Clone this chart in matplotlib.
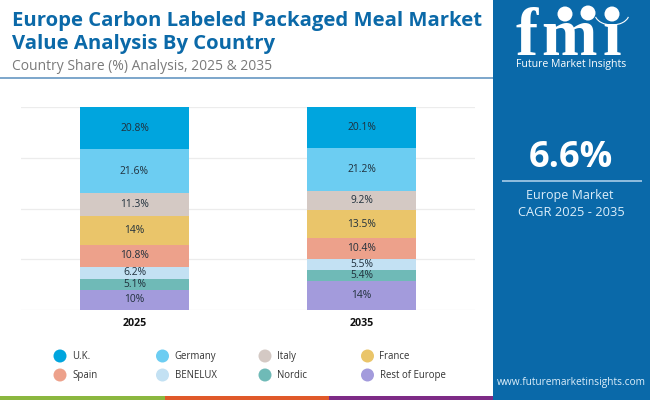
import numpy as np
import matplotlib
matplotlib.use("Agg")
import matplotlib.pyplot as plt
from matplotlib.patches import Rectangle, Circle, Arc

years = ["2025", "2035"]
countries = ["U.K.", "Germany", "Italy", "France", "Spain", "BENELUX", "Nordic", "Rest of Europe"]
uk = [20.8, 20.1]
germany = [21.6, 21.2]
italy = [11.3, 9.2]
france = [14, 13.5]
spain = [10.8, 10.4]
benelux = [6.2, 5.5]
nordic = [5.1, 5.4]
rest = [10, 14]
colors = ["#00A5DE", "#6CCDF2", "#D4C9C4", "#EAC56A", "#EDA18B", "#C3E1F3", "#6FBAB7", "#A39BDC"]
title_lines = ["Europe Carbon Labeled Packaged Meal Market", "Value Analysis By Country"]
subtitle = "Country Share (%) Analysis, 2025 & 2035"

W, H = 650, 400
fig = plt.figure(figsize=(6.5, 4), dpi=100, facecolor="white")
plt.rcParams["font.family"] = ["Open Sans", "DejaVu Sans"]

# chart axes
ax = fig.add_axes([21 / W, 1 - 310 / H, (475 - 21) / W, (310 - 107) / H])
series = [uk, germany, italy, france, spain, benelux, nordic, rest]
arr = np.array(series, dtype=float)
shares = arr / arr.sum(axis=0) * 100
x = np.arange(len(years))
top = np.full(len(years), 100.0)
for name, vals, sh, c in zip(countries, series, shares, colors):
    bottom = top - sh
    ax.bar(x, sh, 0.48, bottom=bottom, color=c, label=name, zorder=3)
    for xi, v, b, s in zip(x, vals, bottom, sh):
        ax.text(xi, b + s / 2, f"{v:g}%", ha="center", va="center",
                fontsize=7.4, color="#20303C", zorder=4)
    top = bottom
ax.set_xlim(-0.5, 1.5)
ax.set_ylim(0, 100)
ax.set_yticks([0, 25, 50, 75, 100])
ax.set_yticklabels([])
ax.set_xticks(x)
ax.set_xticklabels(years, fontsize=7.7, fontweight="bold", color="#111111")
ax.tick_params(length=0, pad=6)
ax.grid(axis="y", color="#ECECEC", lw=0.9, zorder=0)
ax.set_axisbelow(True)
for s in ax.spines.values():
    s.set_visible(False)

# overlay in pixel coordinates for page furniture
ov = fig.add_axes([0, 0, 1, 1], zorder=5)
ov.set_xlim(0, W)
ov.set_ylim(H, 0)
ov.axis("off")
ov.patch.set_alpha(0)
panel = "#0A69A9"
ov.add_patch(Rectangle((493, 0), 157, 400, color=panel, lw=0))
ov.add_patch(Rectangle((0, 77), 493, 1.6, color="#7FA8CC", lw=0))
for x0, x1, c in [(0, 165, "#8BB73F"), (165, 329, "#E0592A"), (329, 493, "#7E2B86")]:
    ov.add_patch(Rectangle((x0, 396), x1 - x0, 4, color=c, lw=0))

for y, line in zip([21, 44], title_lines):
    ov.text(12, y, line, fontsize=14.6, fontweight="bold", color="#0B69A8", ha="left", va="center")
ov.text(12, 67, subtitle, fontsize=10, color="#7A7A7A", ha="left", va="center")

# legend
lx = [60, 162.5, 265, 367.5]
ly = [356, 375]
for i, (name, c) in enumerate(zip(countries, colors)):
    px, py = lx[i % 4], ly[i // 4]
    ov.add_patch(Circle((px, py), 6.5, color=c, lw=0))
    ov.text(px + 12, py + 0.5, name, fontsize=6.9, color="#333333", ha="left", va="center")

# logo
for letter, lxc in zip("fmi", [527, 569, 612]):
    ov.text(lxc, 55, letter, fontsize=48, fontweight="bold", family="Liberation Serif", color="white",
            ha="center", va="baseline")
for yy in np.arange(27, 56, 4.2):
    ov.add_patch(Rectangle((515, yy), 112, 0.8, color=panel, lw=0))
for cx, cy in [(565, 14), (588, 13), (612, 14)]:
    ov.add_patch(Circle((cx, cy), 7.5, color="white", lw=0))
ov.add_patch(Arc((612, 14), 34, 22, theta1=10, theta2=170, color="white", lw=0.8))
ov.text(571, 64, "Future Market Insights", fontsize=7.6, color="white", ha="center", va="center")

ov.text(571, 158, "6.6%", fontsize=26, fontweight="bold", color="white", ha="center", va="center")
ov.add_patch(Rectangle((502, 180), 140, 1.6, color="#8DBBDD", lw=0))
ov.text(570, 195, "Europe Market", fontsize=9, color="#DCEEFA", ha="center", va="center")
ov.text(571, 212, "CAGR 2025 - 2035", fontsize=9.3, color="#DCEEFA", ha="center", va="center")
ov.text(571, 383, "www.futuremarketinsights.com", fontsize=7.3, color="#DCEEFA", ha="center", va="center")

fig.savefig("out.png", dpi=100)
